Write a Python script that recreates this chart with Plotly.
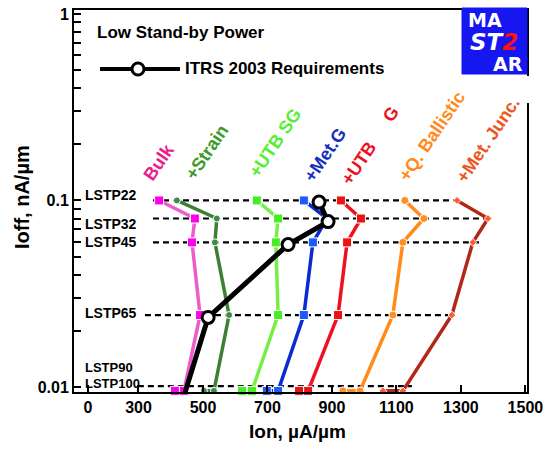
import math
import plotly.graph_objects as go

# ---------------- data ----------------
levels = ["LSTP22", "LSTP32", "LSTP45", "LSTP65", "LSTP90", "LSTP100"]
ioff = [0.1, 0.080, 0.0596, 0.0243, 0.00953, 0.00953]  # nA/um (last two sit on the axis)

series_names = ["Bulk", "+Strain", "+UTB SG", "+Met.G", "+UTB G", "+Q. Ballistic", "+Met. Junc."]
ion_bulk = [364, 475, 466, 491, 441, 413]
ion_strain = [419, 543, 537, 581, 534, 503]
ion_utbsg = [667, 733, 726, 733, 652, 621]
ion_metg = [813, 885, 841, 813, 733, 698]
ion_utbg = [928, 990, 947, 919, 826, 798]
ion_qball = [1126, 1185, 1120, 1089, 987, 934]
ion_metj = [1288, 1384, 1337, 1272, 1120, 1058]

itrs_ion = [860, 888, 764, 516, 444]
itrs_ioff = [0.098, 0.077, 0.058, 0.0236, 0.0093]

ref_levels = [0.1, 0.080, 0.0596, 0.0243, 0.0101]
ref_start = [345, 345, 345, 320, 298]
ref_end = [1288, 1384, 1359, 1281, 1148]

x_tickvals = [143, 300, 500, 700, 900, 1100, 1300, 1500]
x_ticktext = ["0", "300", "500", "700", "900", "1100", "1300", "1500"]

label_levels = ["LSTP22", "LSTP32", "LSTP45", "LSTP65", "LSTP90", "LSTP100"]
label_ioff = [0.1, 0.080, 0.0596, 0.0243, 0.0101, 0.0101]

# ---------------- style ----------------
FONT = "Liberation Sans, Arial, Helvetica, sans-serif"
W, H = 555, 453
L, R, T, B = 74, 527, 10, 392  # plot area in pixels

line_colors = ["#ee5ccc", "#3d8034", "#77ee44", "#0b2bd0", "#ee1122", "#ff8c1a", "#b3261a"]
marker_colors = ["#ff00ee", "#3e8a4a", "#44ee22", "#1a5aff", "#ee1111", "#ff9020", "#ff5a30"]
marker_symbols = ["square", "circle", "square", "square", "square", "circle", "diamond"]
marker_sizes = [9, 7, 9, 9, 9, 8, 6]
label_colors = ["#e8208a", "#3a9a2a", "#55ee33", "#1530c0", "#ee1020", "#ff8a20", "#ee5520"]


def px(xp):
    return (xp - L) / (R - L)


def py(yp):
    return (B - yp) / (B - T)


fig = go.Figure()

# reference dashed lines
for lv, xs, xe in zip(ref_levels, ref_start, ref_end):
    fig.add_trace(go.Scatter(x=[xs, xe], y=[lv, lv], mode="lines",
                             line=dict(color="black", width=2.2, dash="6px,4px"),
                             hoverinfo="skip", showlegend=False))

all_series = [ion_bulk, ion_strain, ion_utbsg, ion_metg, ion_utbg, ion_qball, ion_metj]
for name, xs, lc, mc, ms, sz in zip(series_names, all_series, line_colors, marker_colors,
                                     marker_symbols, marker_sizes):
    fig.add_trace(go.Scatter(x=xs, y=ioff, mode="lines+markers", name=name,
                             line=dict(color=lc, width=3.5),
                             marker=dict(color=mc, symbol=ms, size=sz,
                                         line=dict(color="white", width=1)),
                             cliponaxis=False, showlegend=False))

fig.add_trace(go.Scatter(x=itrs_ion, y=itrs_ioff, mode="lines+markers", name="ITRS 2003 Requirements",
                         line=dict(color="black", width=5),
                         marker=dict(color="white", symbol="circle", size=12,
                                     line=dict(color="black", width=3)),
                         cliponaxis=False, showlegend=False))

# y ticks (log with minor ticks)
y_tickvals, y_ticktext = [], []
for d in [0.01, 0.1]:
    for k in range(1, 10):
        y_tickvals.append(d * k)
        y_ticktext.append("<b>%g</b>" % d if k == 1 else "")
y_tickvals.append(1)
y_ticktext.append("<b>1</b>")

annotations = []
# LSTP labels
shifts = [5, -5, 0, 2, 19, 3]
sizes = [14, 14, 14, 14, 13, 13]
for lab, lv, sh, fs in zip(label_levels, label_ioff, shifts, sizes):
    annotations.append(dict(x=128, y=math.log10(lv), xref="x", yref="y", text="<b>%s</b>" % lab,
                            showarrow=False, xanchor="left", yanchor="middle", yshift=sh,
                            font=dict(family=FONT, size=fs, color="black")))

# rotated series labels (pixel centres)
label_pos = [(159, 162), (207, 152), (275, 143), (325, 155), (359, 163), (432, 136), (488, 140)]
label_texts = ["Bulk", "+Strain", "+UTB SG", "+Met.G", "+UTB", "+Q. Ballistic", "+Met. Junc."]
for t, (xp, yp), c in zip(label_texts, label_pos, label_colors):
    annotations.append(dict(x=px(xp), y=py(yp), xref="paper", yref="paper", text="<b>%s</b>" % t,
                            showarrow=False, textangle=-56, xanchor="center", yanchor="middle",
                            font=dict(family=FONT, size=18, color=c)))
annotations.append(dict(x=px(391), y=py(114), xref="paper", yref="paper", text="<b>G</b>",
                        showarrow=False, textangle=-56, xanchor="center", yanchor="middle",
                        font=dict(family=FONT, size=18, color=label_colors[4])))

# legend-like texts
annotations.append(dict(x=px(95), y=py(33), xref="paper", yref="paper", text="<b>Low Stand-by Power</b>",
                        showarrow=False, xanchor="left", yanchor="middle",
                        font=dict(family=FONT, size=17, color="black")))
annotations.append(dict(x=px(183), y=py(69), xref="paper", yref="paper", text="<b>ITRS 2003 Requirements</b>",
                        showarrow=False, xanchor="left", yanchor="middle",
                        font=dict(family=FONT, size=17, color="black")))

# axis titles
annotations.append(dict(x=px(297), y=py(432), xref="paper", yref="paper", text="<b>Ion, µA/µm</b>",
                        showarrow=False, xanchor="center", yanchor="middle",
                        font=dict(family=FONT, size=19, color="black")))
annotations.append(dict(x=px(22), y=py(197), xref="paper", yref="paper", text="<b>Ioff, nA/µm</b>",
                        showarrow=False, textangle=-90, xanchor="center", yanchor="middle",
                        font=dict(family=FONT, size=20, color="black")))

# logo texts
LOGO_FONT = "DejaVu Sans, sans-serif"
annotations.append(dict(x=px(466), y=py(20), xref="paper", yref="paper", text="<b>MA</b>",
                        showarrow=False, xanchor="left", yanchor="middle",
                        font=dict(family=LOGO_FONT, size=19, color="white")))
annotations.append(dict(x=px(468), y=py(42), xref="paper", yref="paper",
                        text="<b><i>ST<span style='color:#ff1010'>2</span></i></b>",
                        showarrow=False, xanchor="left", yanchor="middle",
                        font=dict(family=LOGO_FONT, size=23, color="white")))
annotations.append(dict(x=px(525), y=py(64), xref="paper", yref="paper", text="<b>AR</b>",
                        showarrow=False, xanchor="right", yanchor="middle",
                        font=dict(family=LOGO_FONT, size=19, color="white")))

shapes = [
    # legend line + marker
    dict(type="line", xref="paper", yref="paper", x0=px(100), x1=px(180), y0=py(69), y1=py(69),
         line=dict(color="black", width=4)),
    dict(type="circle", xref="paper", yref="paper", x0=px(132), x1=px(144), y0=py(75), y1=py(63),
         fillcolor="white", line=dict(color="black", width=3)),
    # gap in right frame under logo
    dict(type="rect", xref="paper", yref="paper", x0=px(520), x1=px(534), y0=py(103), y1=py(76),
         fillcolor="white", line=dict(width=0), layer="above"),
    # logo box
    dict(type="rect", xref="paper", yref="paper", x0=px(462), x1=px(527), y0=py(74), y1=py(8),
         fillcolor="#1616f0", line=dict(color="#1616f0", width=1), layer="above"),
]

fig.update_layout(
    width=W, height=H,
    margin=dict(l=L, r=W - R, t=T, b=H - B, pad=0),
    paper_bgcolor="white", plot_bgcolor="white",
    font=dict(family=FONT, color="black"),
    annotations=annotations, shapes=shapes,
    xaxis=dict(range=[100, 1505], tickvals=x_tickvals, ticktext=["<b>%s</b>" % t for t in x_ticktext],
               ticks="inside", ticklen=7, tickwidth=1.5, tickcolor="black",
               showline=True, linewidth=2, linecolor="black", mirror=True, showgrid=False,
               zeroline=False, tickfont=dict(family=FONT, size=16, color="black"), automargin=False),
    yaxis=dict(type="log", range=[-2.027, 0.021], tickvals=y_tickvals, ticktext=y_ticktext,
               ticks="inside", ticklen=7, tickwidth=1.5, tickcolor="black",
               showline=True, linewidth=2, linecolor="black", mirror=True, showgrid=False,
               zeroline=False, tickfont=dict(family=FONT, size=16, color="black"), automargin=False),
)

fig.write_html("out.html")
